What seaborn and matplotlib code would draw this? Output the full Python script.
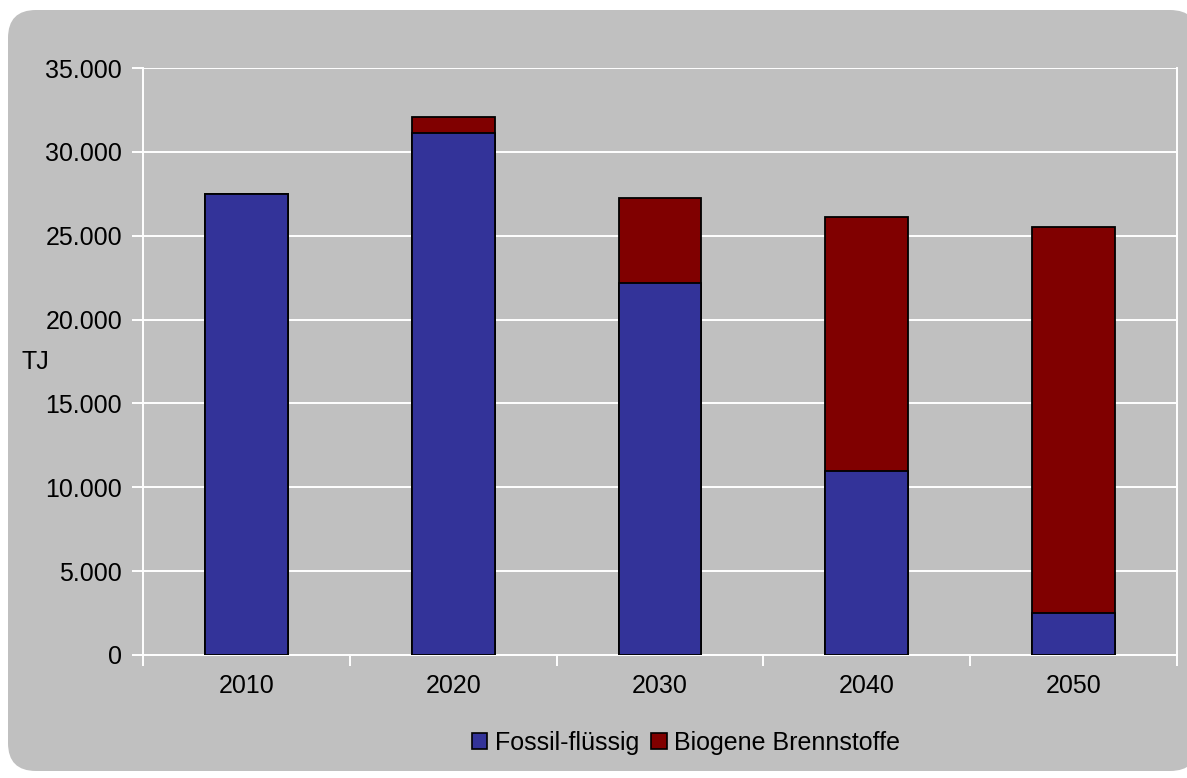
import numpy as np
import pandas as pd
import matplotlib
matplotlib.use("Agg")
import matplotlib.pyplot as plt
import seaborn as sns
from matplotlib.patches import FancyBboxPatch, Patch
from matplotlib.ticker import FuncFormatter

# values (TJ)
years = ["2010", "2020", "2030", "2040", "2050"]
fossil = [27500, 31100, 22200, 11000, 2500]
biogen = [0, 1000, 5050, 15100, 23000]

BLUE = "#333399"
RED = "#800000"
GREY = "#C0C0C0"

df = pd.DataFrame({"Jahr": years, "Fossil-flüssig": fossil, "Biogene Brennstoffe": biogen})
df["Gesamt"] = df["Fossil-flüssig"] + df["Biogene Brennstoffe"]

sns.set_theme(style="white")
plt.rcParams["font.family"] = ["Liberation Sans", "DejaVu Sans"]

fig = plt.figure(figsize=(11.87, 7.78), dpi=100)
fig.patch.set_facecolor("white")

# rounded grey chart frame
frame = FancyBboxPatch((0.08, 0.07), 11.9, 7.61, boxstyle="round,pad=0,rounding_size=0.28",
                       transform=fig.dpi_scale_trans, facecolor=GREY, edgecolor="none", zorder=-10)
fig.patches.append(frame)

ax = fig.add_axes([143 / 1187, 1 - 655 / 778, (1177 - 143) / 1187, (655 - 68) / 778])
ax.set_facecolor(GREY)

# stacked bars: total first (biogenic part on top), fossil over the bottom
sns.barplot(data=df, x="Jahr", y="Gesamt", color=RED, saturation=1, width=0.4,
            edgecolor="black", linewidth=1.3, ax=ax, zorder=3)
sns.barplot(data=df, x="Jahr", y="Fossil-flüssig", color=BLUE, saturation=1, width=0.4,
            edgecolor="black", linewidth=1.3, ax=ax, zorder=4)

ax.set_xlim(-0.5, 4.5)
ax.set_ylim(0, 35000)
ax.set_yticks(np.arange(0, 35001, 5000))
ax.yaxis.set_major_formatter(FuncFormatter(lambda v, p: f"{int(v):,}".replace(",", ".")))
ax.grid(axis="y", color="white", linewidth=1.4, zorder=0)
ax.set_axisbelow(True)

for side in ["left", "bottom", "right"]:
    ax.spines[side].set_visible(True)
    ax.spines[side].set_color("white")
    ax.spines[side].set_linewidth(1.4)
ax.spines["top"].set_visible(False)

ax.set_xticks(np.arange(-0.5, 5, 1), minor=True)
ax.tick_params(axis="x", which="major", length=0, pad=14, labelsize=18, colors="black")
ax.tick_params(axis="x", which="minor", length=8, width=1.4, color="white", direction="out", bottom=True)
ax.tick_params(axis="y", which="major", length=8, width=1.4, color="white", direction="out", left=True,
               pad=7, labelsize=18, labelcolor="black")

ax.set_xlabel("")
ax.set_ylabel("TJ", rotation=0, fontsize=18, color="black", ha="center", va="center")
ax.yaxis.set_label_coords(-0.104, 0.5)

handles = [Patch(facecolor=BLUE, edgecolor="black", linewidth=1.2, label="Fossil-flüssig"),
           Patch(facecolor=RED, edgecolor="black", linewidth=1.2, label="Biogene Brennstoffe")]
fig.legend(handles=handles, loc="center", bbox_to_anchor=(686 / 1187, 1 - 743 / 778), ncol=2,
           frameon=False, fontsize=18, labelcolor="black", handlelength=0.62, handleheight=0.62,
           handletextpad=0.3, columnspacing=0.5)

fig.savefig("out.png", dpi=100)
